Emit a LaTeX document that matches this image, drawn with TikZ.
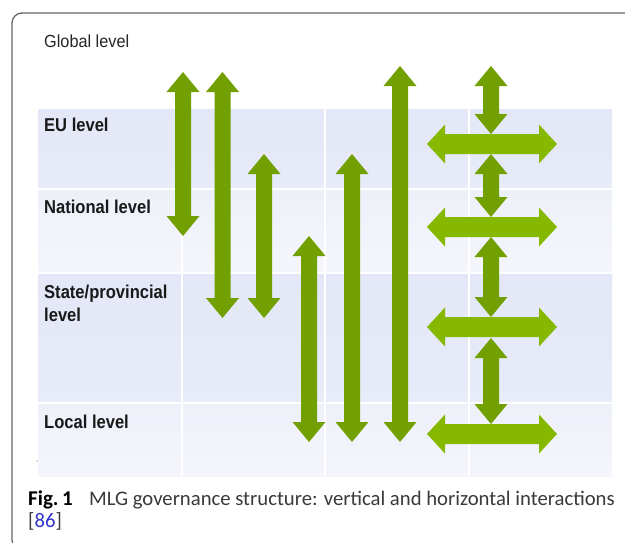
\documentclass[tikz,border=0pt]{standalone}
\usepackage{fontspec}
\newfontfamily\labfont[FakeStretch=0.89]{Liberation Sans}
\newfontfamily\glofont[FakeStretch=0.93]{Liberation Sans}
\newfontfamily\capfont{Carlito}
\definecolor{vgreen}{HTML}{72A000}
\definecolor{hgreen}{HTML}{86B800}
\definecolor{bandA}{HTML}{E3E7F7}
\definecolor{bandAb}{HTML}{E8EBF8}
\definecolor{bandB}{HTML}{EEF0F9}
\definecolor{bandBb}{HTML}{F5F6FC}
\definecolor{framegray}{HTML}{666666}
\definecolor{capgray}{HTML}{3A3A3A}
\definecolor{linkblue}{HTML}{3333CC}
\newcommand\VArrow[3]{\fill[vgreen] (#1,#2) -- ({#1+16.5},{#2+20}) -- ({#1+8},{#2+20}) -- ({#1+8},{#3-20}) -- ({#1+16.5},{#3-20}) -- (#1,#3) -- ({#1-16.5},{#3-20}) -- ({#1-8},{#3-20}) -- ({#1-8},{#2+20}) -- ({#1-16.5},{#2+20}) -- cycle;}
\newcommand\HArrow[3]{\fill[hgreen] (#2,#1) -- ({#2+18},{#1-19.5}) -- ({#2+18},{#1-10}) -- ({#3-18},{#1-10}) -- ({#3-18},{#1-19.5}) -- (#3,#1) -- ({#3-18},{#1+19.5}) -- ({#3-18},{#1+10}) -- ({#2+18},{#1+10}) -- ({#2+18},{#1+19.5}) -- cycle;}
\tikzset{
  lvl/.style={anchor=base west, inner sep=0pt, text=black!90, font=\labfont\bfseries\fontsize{18.6}{23.4}\selectfont, align=left},
  divider/.style={draw=white, line width=2pt},
}
\begin{document}
\begin{tikzpicture}[x=1pt,y=-1pt]
\path[use as bounding box] (0,0) rectangle (625,542);
\clip (0,0) rectangle (625,542);
\fill[white] (0,0) rectangle (625,542);
% frame
\draw[framegray, line width=1.3pt, rounded corners=10pt] (700,13) -- (12,13) -- (12,550) -- (700,550);
% bands
\shade[top color=bandA, bottom color=bandAb] (38,109) rectangle (612,189);
\shade[top color=bandB, bottom color=bandBb] (38,189) rectangle (612,273);
\shade[top color=bandA, bottom color=bandAb] (38,273) rectangle (612,403);
\shade[top color=bandB, bottom color=bandBb] (38,403) rectangle (612,476);
\draw[divider] (38,189) -- (612,189);
\draw[divider] (38,273) -- (612,273);
\draw[divider] (38,403) -- (612,403);
\draw[divider] (182,109) -- (182,476);
\draw[divider] (325,109) -- (325,476);
\draw[divider] (469,109) -- (469,476);
\fill[gray] (37,461) circle (0.6);
% labels
\node[anchor=base west, inner sep=0pt, text=black!85, font=\glofont\fontsize{17.5}{20}\selectfont] (glob) at (44,47.3) {Global level};
\node[lvl] (eu) at (44,131.7) {EU level};
\node[lvl] (nat) at (44,213.3) {National level};
\node[lvl] (state) at (44,321.7) {State/provincial\\level};
\node[lvl] (loc) at (44,428.3) {Local level};
% vertical arrows
\VArrow{183}{72}{236}
\VArrow{222.5}{72}{318}
\VArrow{264}{154}{318}
\VArrow{309}{236}{442}
\VArrow{352}{154}{442}
\VArrow{400}{66}{442}
% right column
\VArrow{491}{66}{134}
\VArrow{491}{154}{217}
\VArrow{491}{237}{317}
\VArrow{491}{338}{424}
\HArrow{144}{427}{557}
\HArrow{227}{427}{557}
\HArrow{327}{427}{557}
\HArrow{434}{427}{557}
% caption
\node[anchor=base west, inner sep=0pt, font=\capfont\bfseries\fontsize{21}{24}\selectfont] (fig) at (28,505) {Fig.\,1};
\node[anchor=base west, inner sep=0pt, text=capgray, font=\capfont\fontsize{20.7}{24}\selectfont] (cap) at (89,505) {MLG governance structure: vertical and horizontal interactions};
\node[anchor=base west, inner sep=0pt, text=capgray, font=\capfont\fontsize{20.7}{24}\selectfont] (ref) at (28,527) {[\textcolor{linkblue}{86}]};
\end{tikzpicture}
\end{document}
